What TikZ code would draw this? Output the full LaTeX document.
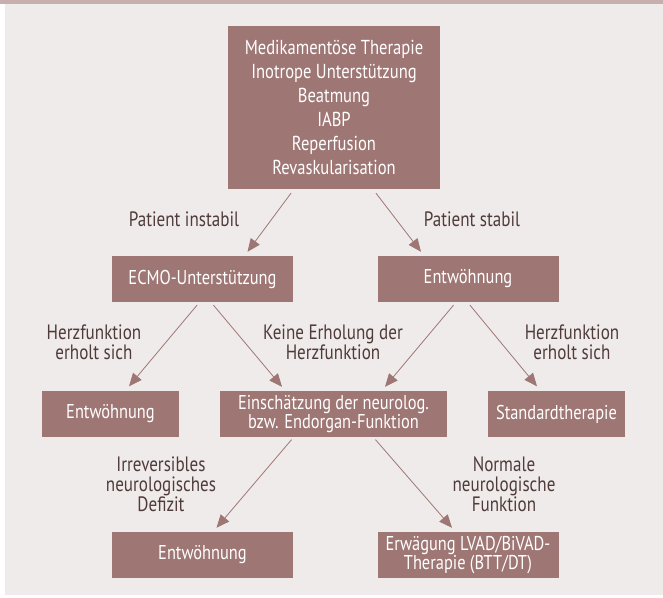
\documentclass[tikz,border=0pt]{standalone}
\usepackage{fontspec}
\setmainfont{PT Sans}[FakeStretch=0.82]
\usepackage{xcolor}
\usetikzlibrary{arrows.meta}
\usetikzlibrary{positioning}
\definecolor{boxmauve}{HTML}{9E7674}
\definecolor{paper}{HTML}{EFEBEA}
\definecolor{topband}{HTML}{C6AFAE}
\definecolor{cuebrown}{HTML}{4E3B3A}
\tikzset{
  % arrow tip used for all connectors
  >={Triangle[length=13pt, width=11pt]},
  line/.style={draw=boxmauve, line width=0.8pt, ->},
  block/.style={rectangle, fill=boxmauve, text=white, align=center, inner sep=0pt,
    minimum width=181pt, minimum height=46pt, font=\fontsize{20}{18.5}\selectfont},
  cue/.style={text=cuebrown, align=center, font=\fontsize{20.8}{20}\selectfont}
}

\begin{document}
\begin{tikzpicture}[x=1pt, y=-1pt]
    % Background
    \useasboundingbox (0,0) rectangle (663,597);
    \fill [paper] (5,4) rectangle (663,595);
    \fill [topband] (0,0) rectangle (663,4);

    % Place nodes
    \node [block, minimum width=212pt, minimum height=163pt, font=\fontsize{20.2}{24}\selectfont] (therapy) at (334,107.5)
      {Medikamentöse Therapie\\Inotrope Unterstützung\\Beatmung\\IABP\\Reperfusion\\Revaskularisation};
    \node [block] (ecmo) at (202.5,279) {ECMO-Unterstützung};
    \node [block, right of=ecmo, node distance=265.5pt] (weanStable) {Entwöhnung};
    \node [block, minimum width=137pt] (weanRecover) at (110.5,414) {Entwöhnung};
    \node [block, minimum width=227pt, right of=weanRecover, node distance=223pt] (assess) {Einschätzung der neurolog.\\bzw. Endorgan-Funktion};
    \node [block, minimum width=137pt, right of=assess, node distance=223pt] (standard) {Standardtherapie};
    \node [block, below of=ecmo, node distance=276pt] (weanDeficit) {Entwöhnung};
    \node [block, right of=weanDeficit, node distance=265.5pt] (vad) {Erwägung LVAD/BiVAD-\\Therapie (BTT/DT)};

    % Branch texts
    \node [cue] (unstable) at (184,219) {Patient instabil};
    \node [cue] (stable) at (472,219) {Patient stabil};
    \node [cue] (recoverLeft) at (94,342) {Herzfunktion\\erholt sich};
    \node [cue] (noRecovery) at (333,342) {Keine Erholung der\\Herzfunktion};
    \node [cue] (recoverRight) at (572,342) {Herzfunktion\\erholt sich};
    \node [cue] (deficit) at (161,484) {Irreversibles\\neurologisches\\Defizit};
    \node [cue] (normal) at (504,484) {Normale\\neurologische\\Funktion};

    % Draw edges
    \path [line] ([xshift=-43pt, yshift=-4pt]therapy.south) -- ([xshift=45pt, yshift=4pt]ecmo.north);
    \path [line] ([xshift=42pt, yshift=-4pt]therapy.south) -- ([xshift=-47pt, yshift=4pt]weanStable.north);
    \path [line] ([xshift=-5.5pt, yshift=-3pt]ecmo.south) -- ([xshift=18.5pt, yshift=4.5pt]weanRecover.north);
    \path [line] ([xshift=11pt, yshift=-3pt]ecmo.south) -- ([xshift=-51.5pt, yshift=4pt]assess.north);
    \path [line] ([xshift=-14.5pt, yshift=-3pt]weanStable.south) -- ([xshift=51.5pt, yshift=4pt]assess.north);
    \path [line] ([xshift=2pt, yshift=-3pt]weanStable.south) -- ([xshift=-19.5pt, yshift=4.5pt]standard.north);
    \path [line] ([xshift=-42pt, yshift=-2.5pt]assess.south) -- ([xshift=14pt, yshift=4pt]weanDeficit.north);
    \path [line] ([xshift=42pt, yshift=-2.5pt]assess.south) -- ([xshift=-16pt, yshift=4pt]vad.north);

\end{tikzpicture}
\end{document}
